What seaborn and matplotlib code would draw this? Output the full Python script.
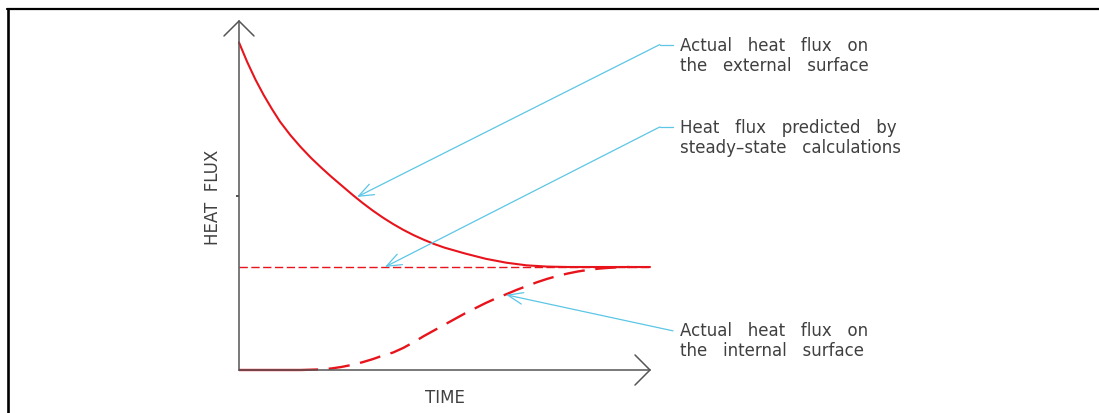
import matplotlib
matplotlib.use("Agg")
import matplotlib.pyplot as plt
import seaborn as sns
from matplotlib.lines import Line2D

# --- DATA (time in arbitrary units, heat flux relative to steady state) ---
EXT_TIME = [0.0, 0.2, 0.4, 0.6, 0.8, 1.0, 1.25, 1.5, 1.75, 2.0, 2.25, 2.5,
            2.75, 3.0, 3.25, 3.5, 3.75, 4.0, 4.25, 4.5, 4.75, 5.0, 5.5, 6.0,
            6.5, 7.0, 7.5, 8.0, 10.0]
EXT_FLUX = [3.18, 2.99, 2.82, 2.67, 2.535, 2.41, 2.28, 2.165, 2.06, 1.965,
            1.875, 1.79, 1.705, 1.624, 1.549, 1.48, 1.417, 1.36, 1.309, 1.264,
            1.223, 1.188, 1.131, 1.08, 1.042, 1.016, 1.004, 1.0, 1.0]

INT_TIME = [0.0, 1.5, 2.0, 2.25, 2.5, 2.75, 3.0, 3.25, 3.5, 3.75, 4.0, 4.25,
            4.5, 4.75, 5.0, 5.25, 5.5, 5.75, 6.0, 6.25, 6.5, 6.75, 7.0, 7.25,
            7.5, 7.75, 8.0, 8.25, 8.5, 8.75, 9.0, 9.25, 9.5]
INT_FLUX = [0.0, 0.0, 0.006, 0.015, 0.03, 0.05, 0.075, 0.105, 0.14, 0.17,
            0.215, 0.27, 0.33, 0.385, 0.44, 0.495, 0.55, 0.60, 0.65, 0.695,
            0.735, 0.777, 0.815, 0.852, 0.885, 0.913, 0.937, 0.957, 0.972,
            0.984, 0.992, 0.997, 1.0]

STEADY_TIME = [0.0, 10.0]
STEADY_FLUX = [1.0, 1.0]

LABELS = [
    ("Actual   heat   flux   on", "the   external   surface"),
    ("Heat   flux   predicted   by", "steady\u2013state   calculations"),
    ("Actual   heat   flux   on", "the   internal   surface"),
]

# --- STYLE ---
W, H = 1099, 414
RED = "#e8141c"
BLUE = "#5cc6e6"
AXIS = "#555555"
TEXT = "#404040"
FS = 12

sns.set_theme(style="white")
plt.rcParams["font.family"] = ["DejaVu Sans"]

fig = plt.figure(figsize=(W / 100, H / 100), dpi=100)
# axes box: x 239..650 px, y 22..371 px
ax = fig.add_axes([239 / W, (H - 371) / H, (650 - 239) / W, (371 - 22) / H])
ax.set_xlim(0, 10)
ax.set_ylim(0, 349 / 103)
ax.patch.set_alpha(0)

for s in ["top", "right"]:
    ax.spines[s].set_visible(False)
for s in ["left", "bottom"]:
    ax.spines[s].set_color(AXIS)
    ax.spines[s].set_linewidth(1.1)
ax.set_xticks([])
ax.set_yticks([1.69])
ax.set_yticklabels([""])
ax.tick_params(axis="y", length=2, width=1.2, color="#333333", left=True)

# arrow heads on axes
ax.plot([-0.365, 0, 0.365], [3.243, 3.388, 3.243], color=AXIS, lw=1.1, clip_on=False)
ax.plot([9.635, 10, 9.635], [0.146, 0, -0.146], color=AXIS, lw=1.1, clip_on=False)

# curves (dash lengths are in units of line width)
sns.lineplot(x=STEADY_TIME, y=STEADY_FLUX, ax=ax, color=RED, lw=1.0,
             linestyle=(0, (6, 2.5)), clip_on=False)
int_dash = [33.5, 4.5] + [9, 4.5] * 14
sns.lineplot(x=INT_TIME, y=INT_FLUX, ax=ax, color=RED, lw=1.7,
             linestyle=(0, int_dash), clip_on=False)
sns.lineplot(x=EXT_TIME, y=EXT_FLUX, ax=ax, color=RED, lw=1.5, clip_on=False)

# annotations
arrow_kw = dict(arrowstyle="->,head_length=0.9,head_width=0.35", color=BLUE, lw=0.9,
                shrinkA=0, shrinkB=0)
ax.annotate("", xy=(2.87, 1.68), xytext=(10.24, 3.16), arrowprops=arrow_kw,
            annotation_clip=False)
ax.plot([10.24, 10.56], [3.16, 3.16], color=BLUE, lw=0.9, clip_on=False)
ax.annotate("", xy=(3.55, 1.0), xytext=(10.24, 2.36), arrowprops=arrow_kw,
            annotation_clip=False)
ax.plot([10.24, 10.56], [2.36, 2.36], color=BLUE, lw=0.9, clip_on=False)
ax.annotate("", xy=(6.50, 0.73), xytext=(10.56, 0.38), arrowprops=arrow_kw,
            annotation_clip=False)

text_pos = [(3.107, 2.913), (2.311, 2.117), (0.340, 0.146)]
for (l1, l2), (y1, y2) in zip(LABELS, text_pos):
    ax.text(10.73, y1, l1, fontsize=FS, color=TEXT, va="baseline", ha="left")
    ax.text(10.73, y2, l2, fontsize=FS, color=TEXT, va="baseline", ha="left")

ax.text(-0.633, 1.69, "HEAT  FLUX", rotation=90, fontsize=FS, color=TEXT,
        ha="center", va="center")
ax.text(5.01, -0.262, "TIME", fontsize=FS, color=TEXT, ha="center", va="center")

# page border
fig.add_artist(Line2D([7.5 / W, 7.5 / W], [0, 1 - 10 / H], color="black", lw=1.9))
fig.add_artist(Line2D([7 / W, 1], [1 - 10 / H, 1 - 10 / H], color="black", lw=1.6))

fig.savefig("out.png", dpi=100)
